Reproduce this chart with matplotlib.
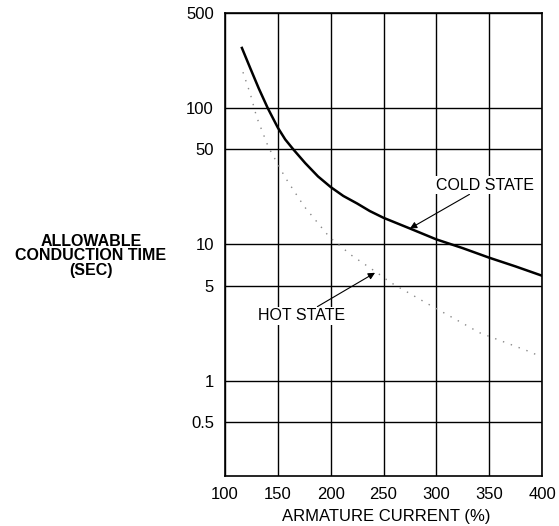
import matplotlib
matplotlib.use("Agg")
import matplotlib.pyplot as plt

plt.rcParams["font.family"] = ["Liberation Sans", "DejaVu Sans"]

# armature current (%) vs allowable conduction time (sec)
cold_x = [116, 124, 132, 140.5, 150, 157, 165, 176, 188, 200,
          212, 225, 237, 250, 275, 300, 325, 350, 375, 400]
cold_y = [277, 196, 139.5, 100, 72, 59, 49.5, 39.5, 31.6, 26.4,
          22.7, 20, 17.6, 15.7, 13.1, 10.9, 9.4, 8.0, 6.9, 5.9]

hot_x = [117, 124, 130, 141, 157, 175, 199, 220, 244, 256, 291, 341, 386, 395]
hot_y = [184, 127, 86, 52, 31, 19, 11.3, 8.3, 6.2, 5.3, 3.7, 2.25, 1.66, 1.55]

x_ticks = [100, 150, 200, 250, 300, 350, 400]
y_ticks = [0.5, 1, 5, 10, 50, 100, 500]
y_labels = ["0.5", "1", "5", "10", "50", "100", "500"]

fig = plt.figure(figsize=(5.59, 5.26), dpi=100)
ax = fig.add_axes([0.4025, 0.0951, 0.5671, 0.8802])

ax.set_yscale("log")
ax.set_xlim(100, 400)
ax.set_ylim(0.2, 500)

ax.set_xticks(x_ticks)
ax.set_xticklabels([str(v) for v in x_ticks], fontsize=12)
ax.set_yticks(y_ticks)
ax.set_yticklabels(y_labels, fontsize=12)
ax.yaxis.set_minor_locator(matplotlib.ticker.NullLocator())
ax.tick_params(length=0, pad=8)

ax.grid(True, color="black", linewidth=1.0)
for s in ax.spines.values():
    s.set_linewidth(1.2)

ax.plot(cold_x, cold_y, color="black", linewidth=1.8)
ax.plot(hot_x, hot_y, color="#888888", linewidth=1.0, linestyle=(0, (1, 5)))

ax.annotate("COLD STATE", xy=(275, 13.1), xytext=(300, 27.2),
            fontsize=11.5, ha="left", va="center",
            arrowprops=dict(arrowstyle="-|>", color="black", lw=0.8,
                            shrinkA=0, shrinkB=0, mutation_scale=10),
            bbox=dict(boxstyle="square,pad=0.1", fc="white", ec="none"))
ax.annotate("HOT STATE", xy=(242, 6.2), xytext=(214, 3.0),
            fontsize=11.5, ha="right", va="center",
            arrowprops=dict(arrowstyle="-|>", color="black", lw=0.8,
                            shrinkA=0, shrinkB=0, mutation_scale=10),
            bbox=dict(boxstyle="square,pad=0.1", fc="white", ec="none"))

fig.text(91 / 559, 1 - 256 / 526, "ALLOWABLE\nCONDUCTION TIME\n(SEC)",
         fontsize=11.5, fontweight="bold", ha="center", va="center",
         linespacing=0.95)
fig.text(386 / 559, 1 - 516 / 526, "ARMATURE CURRENT (%)",
         fontsize=12, ha="center", va="center")

fig.savefig("out.png", dpi=100)
